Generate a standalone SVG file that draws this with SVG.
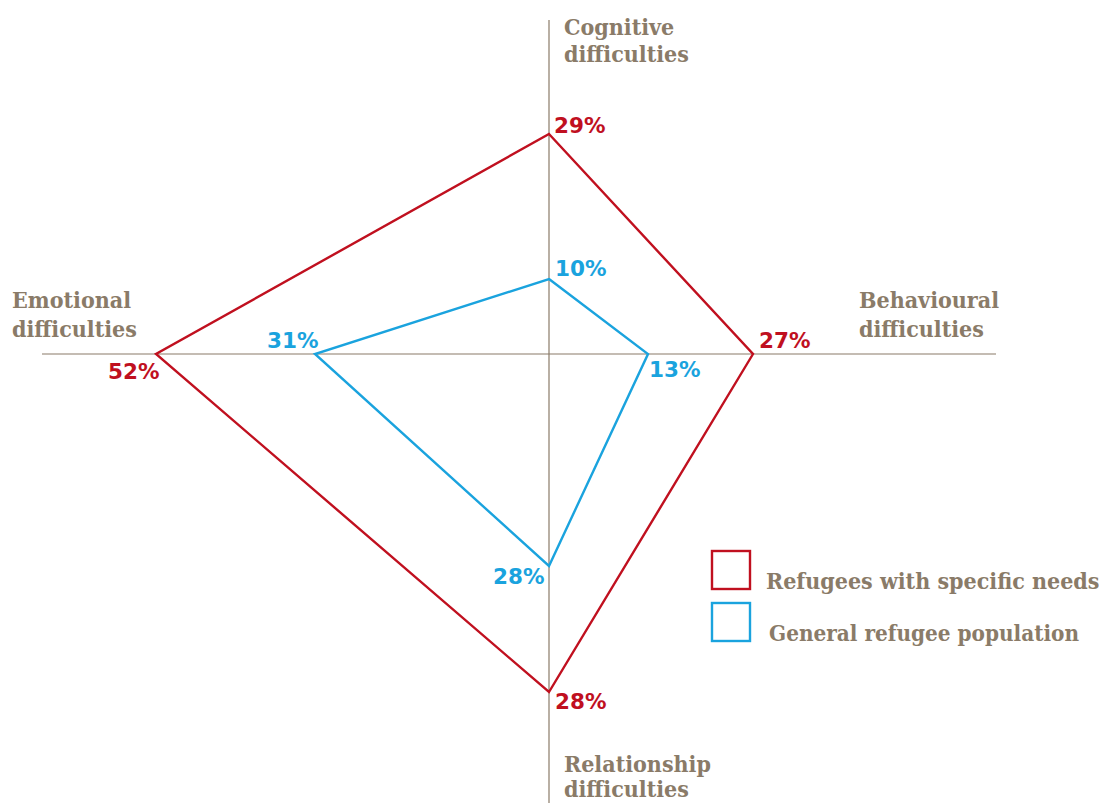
<svg xmlns="http://www.w3.org/2000/svg" width="1099" height="803" viewBox="0 0 1099 803">
<style>
.axis{stroke:#8a7b68;stroke-width:1.2;fill:none}
.lbl{font-family:"DejaVu Serif Condensed","DejaVu Serif","Liberation Serif",serif;font-weight:bold;font-size:23px;fill:#8a7b68}
.pr{font-family:"DejaVu Sans","Liberation Sans",sans-serif;font-weight:bold;font-size:21.5px;fill:#c0101f}
.pb{font-family:"DejaVu Sans","Liberation Sans",sans-serif;font-weight:bold;font-size:21.5px;fill:#1aa3de}
.red{stroke:#c0101f;stroke-width:2.4;fill:none}
.blue{stroke:#1aa3de;stroke-width:2.4;fill:none}
</style>
<rect width="1099" height="803" fill="#fff"/>
<g id="axes">
<line class="axis" x1="549" y1="20" x2="549" y2="803"/>
<line class="axis" x1="42" y1="354" x2="996" y2="354"/>
</g>
<g id="series">
<polygon id="refugees-specific" class="red" points="549,134 753,354 549,692 156,354"/>
<polygon id="general" class="blue" points="549,279 648,354 549,566 315,354"/>
</g>
<g id="axis-labels">
<text class="lbl" x="564" y="35">Cognitive</text>
<text class="lbl" x="564" y="62">difficulties</text>
<text class="lbl" x="12" y="308">Emotional</text>
<text class="lbl" x="12" y="337">difficulties</text>
<text class="lbl" x="859" y="308">Behavioural</text>
<text class="lbl" x="859" y="337">difficulties</text>
<text class="lbl" x="564" y="772">Relationship</text>
<text class="lbl" x="564" y="797">difficulties</text>
</g>
<g id="values">
<text class="pr" x="554" y="133">29%</text>
<text class="pb" x="555" y="276">10%</text>
<text class="pr" x="759" y="348">27%</text>
<text class="pb" x="649" y="377">13%</text>
<text class="pr" x="108" y="379">52%</text>
<text class="pb" x="267" y="348">31%</text>
<text class="pb" x="493" y="584">28%</text>
<text class="pr" x="555" y="709">28%</text>
</g>
<g id="legend">
<rect x="712" y="551" width="38" height="38" class="red"/>
<text class="lbl" x="766" y="589">Refugees with specific needs</text>
<rect x="712" y="603" width="38" height="38" class="blue"/>
<text class="lbl" x="769" y="641" textLength="310" lengthAdjust="spacingAndGlyphs">General refugee population</text>
</g>
</svg>
